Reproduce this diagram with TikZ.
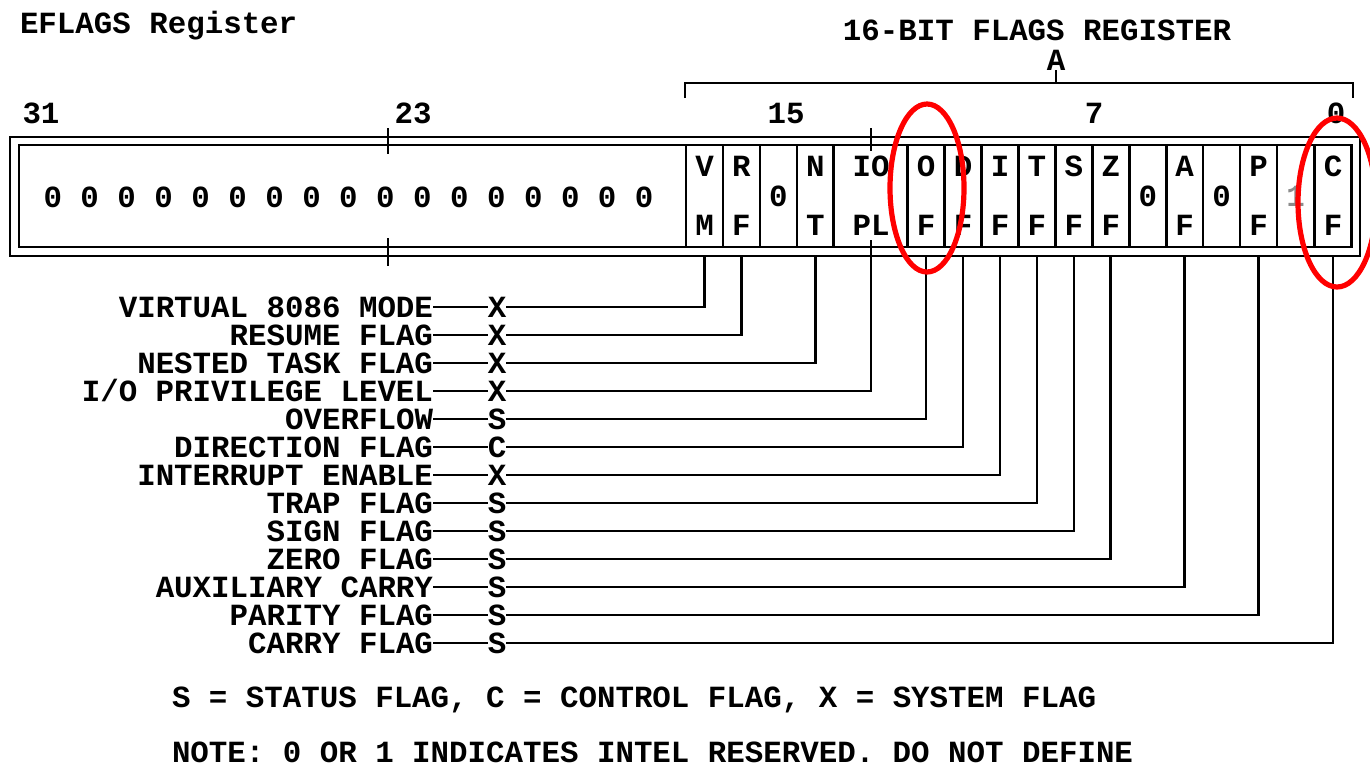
\documentclass[tikz,border=0pt]{standalone}
\usepackage{fontspec}
\setmonofont{Liberation Mono}
\usetikzlibrary{positioning}
\usepackage{xcolor}
\colorlet{markred}{red}
\colorlet{resgray}{black!45}
\tikzset{
  reg font/.style={font=\ttfamily\bfseries\fontsize{15.4pt}{29.5pt}\selectfont},
  plain text/.style={reg font, inner sep=0pt, outer sep=0pt, text height=10.2pt, text depth=0pt},
  reg frame/.style={draw, line width=1.3pt, inner sep=0pt, outer sep=0pt},
  cell/.style={reg frame, minimum width=18.47pt, minimum height=51pt, align=center, reg font},
  wide cell/.style={cell, minimum width=36.94pt},
  name label/.style={plain text, anchor=east},
  kind label/.style={plain text},
  short wire/.style={line width=1.35pt},
  flag wire/.style={line width=1.35pt, shorten <=4.5pt},
  bit tick/.style={line width=1.3pt},
  bracket/.style={line width=1.3pt},
  red mark/.style={draw=markred, line width=2.6pt}
}

\begin{document}
\begin{tikzpicture}[x=0.5pt, y=-0.5pt]

  \path[use as bounding box, fill=white] (0,0) rectangle (1370,766);

  % =================================================================================
  % TITLES AND BIT NUMBERS
  % =================================================================================

  \node[plain text, anchor=west] (Title) at (20,23) {EFLAGS Register};
  \node[plain text] (Title16) at (1037,30) {16-BIT FLAGS REGISTER};
  \node[plain text] (Apex) at (1056,60) {A};

  % bracket over the low 16 bits
  \coordinate (BraceMid) at (1056,83);
  \draw[bracket] (685,98) -- (685,83) -- (1353,83) -- (1353,98);
  \draw[bracket] (BraceMid) -- (Apex.south);

  \node[plain text] (B31) at (41,113) {31};
  \node[plain text] (B23) at (413,113) {23};
  \node[plain text] (B15) at (786,113) {15};
  \node[plain text] (B7) at (1094,113) {7};
  \node[plain text] (B0) at (1336,113) {0};

  % =================================================================================
  % REGISTER BOX
  % =================================================================================

  \node[reg frame, minimum width=675pt, minimum height=59.5pt] (box-outer) at (685,196.5) {};
  \node[reg frame, minimum width=666pt, minimum height=51pt] (box-inner) at (685,196) {};

  % upper reserved bits
  \node[plain text] (Upper) at (348.5,197) {0 0 0 0 0 0 0 0 0 0 0 0 0 0 0 0 0};

  % one cell per flag bit
  \node[cell] (VM) at (704.5,196) {V\\M};
  \node[cell] (RF) at (741.4,196) {R\\F};
  \node[cell] (Res15) at (778.4,196) {0};
  \node[cell] (NT) at (815.3,196) {N\\T};
  \node[wide cell] (IOPL) at (871,196) {IO\\PL};
  \node[cell] (OF) at (926.1,196) {O\\F};
  \node[cell] (DF) at (963.1,196) {D\\F};
  \node[cell] (IF) at (1000,196) {I\\F};
  \node[cell] (TF) at (1036.9,196) {T\\F};
  \node[cell] (SF) at (1073.9,196) {S\\F};
  \node[cell] (ZF) at (1110.8,196) {Z\\F};
  \node[cell] (Res5) at (1147.8,196) {0};
  \node[cell] (AF) at (1184.7,196) {A\\F};
  \node[cell] (Res3) at (1221.6,196) {0};
  \node[cell] (PF) at (1258.6,196) {P\\F};
  \node[cell] (Res1) at (1295.5,196) {\textcolor{resgray}{1}};
  \node[cell] (CF) at (1333,196) {C\\F};

  % nibble ticks
  \draw[bit tick] (388,128) -- (388,154);
  \draw[bit tick] (388,238) -- (388,266);
  \draw[bit tick] (871,128) -- (871,151);
  \draw[bit tick] (871,240) -- (871,256);

  % =================================================================================
  % FLAG NAMES AND WIRES
  % =================================================================================

  \node[name label] (Lbl_VM) at (433,307) {VIRTUAL 8086 MODE};
  \node[kind label] (Cat_VM) at (497,307) {X};
  \node[name label] (Lbl_RF) at (433,335) {RESUME FLAG};
  \node[kind label] (Cat_RF) at (497,335) {X};
  \node[name label] (Lbl_NT) at (433,363) {NESTED TASK FLAG};
  \node[kind label] (Cat_NT) at (497,363) {X};
  \node[name label] (Lbl_IOPL) at (433,391) {I/O PRIVILEGE LEVEL};
  \node[kind label] (Cat_IOPL) at (497,391) {X};
  \node[name label] (Lbl_OF) at (433,419) {OVERFLOW};
  \node[kind label] (Cat_OF) at (497,419) {S};
  \node[name label] (Lbl_DF) at (433,447) {DIRECTION FLAG};
  \node[kind label] (Cat_DF) at (497,447) {C};
  \node[name label] (Lbl_IF) at (433,475) {INTERRUPT ENABLE};
  \node[kind label] (Cat_IF) at (497,475) {X};
  \node[name label] (Lbl_TF) at (433,503) {TRAP FLAG};
  \node[kind label] (Cat_TF) at (497,503) {S};
  \node[name label] (Lbl_SF) at (433,531) {SIGN FLAG};
  \node[kind label] (Cat_SF) at (497,531) {S};
  \node[name label] (Lbl_ZF) at (433,559) {ZERO FLAG};
  \node[kind label] (Cat_ZF) at (497,559) {S};
  \node[name label] (Lbl_AF) at (433,587) {AUXILIARY CARRY};
  \node[kind label] (Cat_AF) at (497,587) {S};
  \node[name label] (Lbl_PF) at (433,615) {PARITY FLAG};
  \node[kind label] (Cat_PF) at (497,615) {S};
  \node[name label] (Lbl_CF) at (433,643) {CARRY FLAG};
  \node[kind label] (Cat_CF) at (497,643) {S};

  % name to kind
  \draw[short wire] (Lbl_VM.east) -- (Cat_VM.west);
  \draw[short wire] (Lbl_RF.east) -- (Cat_RF.west);
  \draw[short wire] (Lbl_NT.east) -- (Cat_NT.west);
  \draw[short wire] (Lbl_IOPL.east) -- (Cat_IOPL.west);
  \draw[short wire] (Lbl_OF.east) -- (Cat_OF.west);
  \draw[short wire] (Lbl_DF.east) -- (Cat_DF.west);
  \draw[short wire] (Lbl_IF.east) -- (Cat_IF.west);
  \draw[short wire] (Lbl_TF.east) -- (Cat_TF.west);
  \draw[short wire] (Lbl_SF.east) -- (Cat_SF.west);
  \draw[short wire] (Lbl_ZF.east) -- (Cat_ZF.west);
  \draw[short wire] (Lbl_AF.east) -- (Cat_AF.west);
  \draw[short wire] (Lbl_PF.east) -- (Cat_PF.west);
  \draw[short wire] (Lbl_CF.east) -- (Cat_CF.west);

  % kind to bit
  \draw[flag wire] (VM.south) |- (Cat_VM.east);
  \draw[flag wire] (RF.south) |- (Cat_RF.east);
  \draw[flag wire] (NT.south) |- (Cat_NT.east);
  \draw[flag wire] (IOPL.south) |- (Cat_IOPL.east);
  \draw[flag wire] (OF.south) |- (Cat_OF.east);
  \draw[flag wire] (DF.south) |- (Cat_DF.east);
  \draw[flag wire] (IF.south) |- (Cat_IF.east);
  \draw[flag wire] (TF.south) |- (Cat_TF.east);
  \draw[flag wire] (SF.south) |- (Cat_SF.east);
  \draw[flag wire] (ZF.south) |- (Cat_ZF.east);
  \draw[flag wire] (AF.south) |- (Cat_AF.east);
  \draw[flag wire] (PF.south) |- (Cat_PF.east);
  \draw[flag wire] (CF.south) |- (Cat_CF.east);

  % =================================================================================
  % LEGEND
  % =================================================================================

  \node[plain text, anchor=west] (Legend) at (172,697) {S = STATUS FLAG, C = CONTROL FLAG, X = SYSTEM FLAG};
  \node[plain text, anchor=west] (Note) at (172,752) {NOTE: 0 OR 1 INDICATES INTEL RESERVED. DO NOT DEFINE};

  % red highlights
  \draw[red mark] (927,188) ellipse [x radius=18.5pt, y radius=42pt];
  \draw[red mark] (1337,202.5) ellipse [x radius=19.5pt, y radius=42.25pt];

\end{tikzpicture}
\end{document}
